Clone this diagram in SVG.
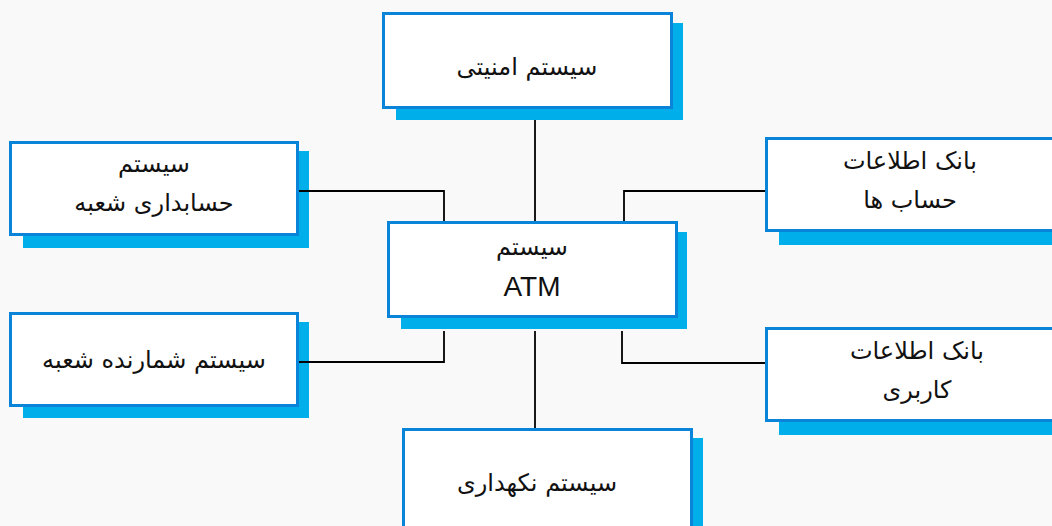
<svg xmlns="http://www.w3.org/2000/svg" width="1052" height="526" viewBox="0 0 1052 526">
  <style>
    .shadow { fill: #00aeea; }
    .box { fill: #ffffff; stroke: #0a84d8; stroke-width: 3; }
    .lbl { font-family: "DejaVu Sans", "Liberation Sans", sans-serif; font-size: 24px; fill: #111111; text-anchor: middle; }
    .lat { font-family: "Liberation Sans", Arial, sans-serif; font-size: 28px; fill: #111111; text-anchor: middle; }
    .conn { fill: none; stroke: #000000; stroke-width: 1.8; }
  </style>
  <rect x="0" y="0" width="1052" height="526" fill="#f9f9f9"/>

  <g id="node-security">
    <rect class="shadow" x="396" y="23" width="287" height="97"/>
    <rect class="box" x="383.5" y="13.5" width="288" height="94"/>
    <text class="lbl" x="527" y="75" direction="rtl">سیستم امنیتی</text>
  </g>

  <g id="node-accounting">
    <rect class="shadow" x="23" y="151" width="286" height="97"/>
    <rect class="box" x="10.5" y="142.5" width="287" height="92"/>
    <text class="lbl" x="154" y="172" direction="rtl">سیستم</text>
    <text class="lbl" x="154" y="211" direction="rtl">حسابداری شعبه</text>
  </g>

  <g id="node-atm">
    <rect class="shadow" x="401" y="232" width="286" height="97"/>
    <rect class="box" x="388.5" y="222.5" width="288" height="94"/>
    <text class="lbl" x="532" y="255" direction="rtl">سیستم</text>
    <text class="lat" x="532" y="296">ATM</text>
  </g>

  <g id="node-accounts-db">
    <rect class="shadow" x="779" y="147" width="290" height="98"/>
    <rect class="box" x="766.5" y="138.5" width="300" height="92"/>
    <text class="lbl" x="910" y="169" direction="rtl">بانک اطلاعات</text>
    <text class="lbl" x="910" y="208" direction="rtl">حساب ها</text>
  </g>

  <g id="node-counter">
    <rect class="shadow" x="23" y="322" width="286" height="96"/>
    <rect class="box" x="10.5" y="313.5" width="287" height="92"/>
    <text class="lbl" x="154" y="368" direction="rtl">سیستم شمارنده شعبه</text>
  </g>

  <g id="node-users-db">
    <rect class="shadow" x="779" y="337" width="290" height="98"/>
    <rect class="box" x="766.5" y="328.5" width="300" height="92"/>
    <text class="lbl" x="917" y="359" direction="rtl">بانک اطلاعات</text>
    <text class="lbl" x="917" y="398" direction="rtl">کاربری</text>
  </g>

  <g id="node-maintenance">
    <rect class="shadow" x="416" y="438" width="287" height="100"/>
    <rect class="box" x="403.5" y="429.5" width="288" height="100"/>
    <text class="lbl" x="537" y="491" direction="rtl">سیستم نکهداری</text>
  </g>

  <g id="connectors">
    <path class="conn" d="M535,120 V221"/>
    <path class="conn" d="M299,191 H444 V221"/>
    <path class="conn" d="M765,191 H624 V221"/>
    <path class="conn" d="M299,362 H444 V331"/>
    <path class="conn" d="M765,363 H622 V331"/>
    <path class="conn" d="M535,331 V428"/>
  </g>
</svg>
